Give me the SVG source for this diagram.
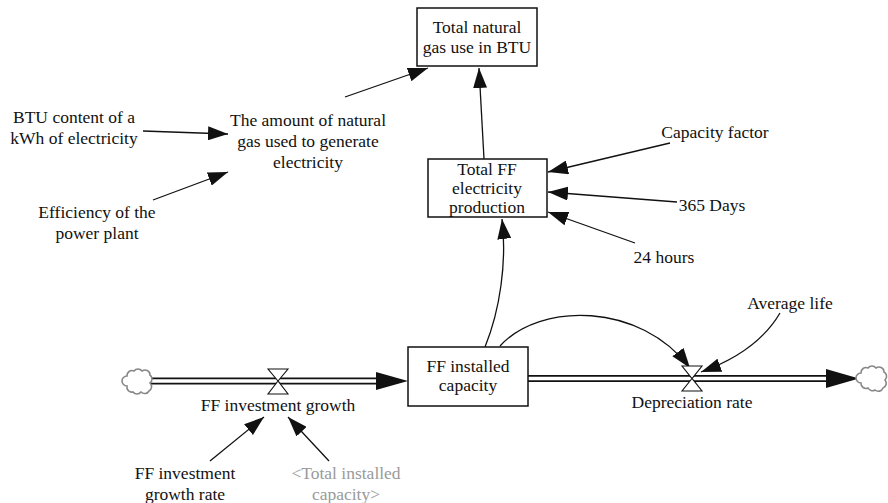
<svg xmlns="http://www.w3.org/2000/svg" width="888" height="503" viewBox="0 0 888 503">
<defs>
<style>
text{font-family:"Liberation Serif","DejaVu Serif",serif;font-size:17.5px;fill:#111;text-anchor:middle}
.gray{fill:#9a9a9a}
.box{fill:#fff;stroke:#111;stroke-width:1.5}
.link{fill:none;stroke:#111;stroke-width:1.3}
.pipeo{stroke:#111;stroke-width:7}
.pipei{stroke:#fff;stroke-width:3.5}
.valve{fill:#fff;stroke:#111;stroke-width:1.1}
.cloud{fill:#fff;stroke:#888;stroke-width:1.6}
</style>
<marker id="ah" markerUnits="userSpaceOnUse" markerWidth="22" markerHeight="14" refX="20" refY="7" orient="auto">
<path d="M0,0 L20,7 L0,14 z" fill="#111"/>
</marker>
</defs>

<g id="connectors">
<line class="link" x1="143" y1="131" x2="228" y2="134" marker-end="url(#ah)"/>
<line class="link" x1="153" y1="200" x2="228" y2="172" marker-end="url(#ah)"/>
<line class="link" x1="345" y1="97" x2="428" y2="68" marker-end="url(#ah)"/>
<line class="link" x1="484" y1="159" x2="479" y2="68" marker-end="url(#ah)"/>
<line class="link" x1="670" y1="143" x2="548" y2="172" marker-end="url(#ah)"/>
<line class="link" x1="677" y1="202" x2="548" y2="192" marker-end="url(#ah)"/>
<line class="link" x1="635" y1="243" x2="548" y2="212" marker-end="url(#ah)"/>
<path class="link" d="M485,347 C500,310 507,262 502,219" marker-end="url(#ah)"/>
<path class="link" d="M500,346 C540,302 640,302 690,368" marker-end="url(#ah)"/>
<path class="link" d="M780,313 Q757,352 701,372" marker-end="url(#ah)"/>
<line class="link" x1="210" y1="461" x2="264" y2="417" marker-end="url(#ah)"/>
<line class="link" x1="329" y1="461" x2="288" y2="417" marker-end="url(#ah)"/>
<line class="pipeo" x1="150" y1="381" x2="378" y2="381"/>
<line class="pipei" x1="150" y1="381" x2="378" y2="381"/>
<polygon points="376,372 408,381 376,390" fill="#111"/>
<line class="pipeo" x1="528" y1="378.5" x2="828" y2="378.5"/>
<line class="pipei" x1="527" y1="378.5" x2="828" y2="378.5"/>
<polygon points="826,369 859,378.5 826,388" fill="#111"/>
</g>

<g id="cloud-source">
<path class="cloud" d="M127,376 a5,5 0 0,1 7,-5 a5,5 0 0,1 8,0 a5,5 0 0,1 8,4 a5,5 0 0,1 0,8 a5,5 0 0,1 -1,8 a5,5 0 0,1 -8,1 a5,5 0 0,1 -8,0 a5,5 0 0,1 -6,-6 a5,5 0 0,1 0,-10 z"/>
</g>
<g id="cloud-sink">
<path class="cloud" d="M861,373 a5,5 0 0,1 7,-5 a5,5 0 0,1 8,0 a5,5 0 0,1 8,4 a5,5 0 0,1 1,8 a5,5 0 0,1 -2,8 a5,5 0 0,1 -8,2 a5,5 0 0,1 -7,-2 a5,5 0 0,1 -7,-5 a5,5 0 0,1 0,-10 z"/>
</g>

<g id="ff-investment-growth">
<path class="valve" d="M268,369 L288,369 L278,381 Z M278,381 L268,394 L288,394 Z"/>
<text x="278" y="411">FF investment growth</text>
</g>
<g id="depreciation-rate">
<path class="valve" d="M682,366 L702,366 L692,378.5 Z M692,378.5 L682,391 L702,391 Z"/>
<text x="692" y="408">Depreciation rate</text>
</g>

<g id="ff-installed-capacity">
<rect class="box" x="408" y="347" width="120" height="59"/>
<text x="468" y="372">FF installed</text>
<text x="468" y="391">capacity</text>
</g>

<g id="total-natural-gas">
<rect class="box" x="417" y="8" width="120" height="58"/>
<text x="477" y="33">Total natural</text>
<text x="477" y="53">gas use in BTU</text>
</g>

<g id="total-ff-electricity">
<rect class="box" x="428" y="159" width="119" height="58"/>
<text x="487" y="175">Total FF</text>
<text x="487" y="194">electricity</text>
<text x="487" y="213">production</text>
</g>

<g id="amount-natural-gas">
<text x="308" y="126">The amount of natural</text>
<text x="308" y="147">gas used to generate</text>
<text x="308" y="168">electricity</text>
</g>

<g id="btu-content">
<text x="74" y="123">BTU content of a</text>
<text x="74" y="144">kWh of electricity</text>
</g>

<g id="efficiency">
<text x="97" y="218">Efficiency of the</text>
<text x="97" y="239">power plant</text>
</g>

<g id="capacity-factor"><text x="715" y="138">Capacity factor</text></g>
<g id="days-365"><text x="712" y="211">365 Days</text></g>
<g id="hours-24"><text x="664" y="263">24 hours</text></g>
<g id="average-life"><text x="790" y="309">Average life</text></g>

<g id="ff-investment-growth-rate">
<text x="185" y="479">FF investment</text>
<text x="185" y="500">growth rate</text>
</g>
<g id="total-installed-capacity">
<text class="gray" x="346" y="479">&lt;Total installed</text>
<text class="gray" x="346" y="500">capacity&gt;</text>
</g>
</svg>
